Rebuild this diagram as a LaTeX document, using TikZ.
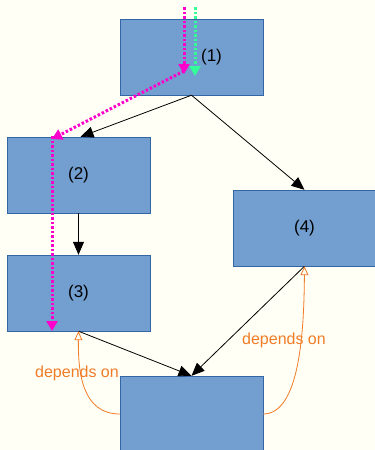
\documentclass[tikz,border=0pt]{standalone}
\usepackage{fontspec}
\setmainfont{Liberation Sans}
\usetikzlibrary{arrows.meta}

\definecolor{paper}{HTML}{FFFFF5}
\definecolor{boxblue}{HTML}{729FCF}
\definecolor{boxline}{HTML}{3465A4}
\definecolor{deporange}{HTML}{F07C28}
\definecolor{pathpink}{HTML}{FF00CC}
\definecolor{pathgreen}{HTML}{33FF99}

\tikzset{
  block/.style={draw=boxline, fill=boxblue, minimum width=143pt, minimum height=76pt, inner sep=0pt, font=\fontsize{17}{20}\selectfont},
  link/.style={draw=black, line width=0.8pt, -{Triangle[length=13pt,width=11pt]}},
  depends/.style={draw=deporange, line width=0.8pt, -{Triangle[open,length=9pt,width=8pt]}},
  deplabel/.style={text=deporange, font=\fontsize{16}{19}\selectfont},
  trace/.style={line width=3pt, dash pattern=on 2.5pt off 2pt, -{Triangle[length=10pt,width=11pt]}}
}

\begin{document}
\begin{tikzpicture}[x=1pt, y=-1pt]
\fill[paper] (0,0) rectangle (375,450);
\useasboundingbox (0,0) rectangle (375,450);

\node[block, label={[font=\fontsize{17}{20}\selectfont]center:{\hspace*{40pt}(1)}}] (b1) at (191.5,57) {};
\node[block] (b2) at (78.5,175) {(2)};
\node[block] (b3) at (78.5,293) {(3)};
\node[block] (b4) at (304.5,228) {(4)};
\node[block] (b5) at (191.5,414) {};

\draw[link] (b1.south) -- ([xshift=2pt]b2.north);
\draw[link] (b1.south) -- (b4.north);
\draw[link] (b2.south) -- (b3.north);
\draw[link] (b3.south) -- (b5.north);
\draw[link] (b4.south) -- (b5.north);

\draw[depends] (b5.west) .. controls (82,414) and (78,372) .. (b3.south);
\draw[depends] (b5.east) .. controls (300,414) and (304,330) .. (b4.south);
\node[deplabel] (dep1) at (77,373) {depends on};
\node[deplabel] (dep2) at (284,340) {depends on};

\coordinate (p0) at (184,7);
\coordinate (p1) at (184,74);
\coordinate (p2) at (52,139);
\coordinate (p3) at (52,331);
\coordinate (g0) at (195,7);
\coordinate (g1) at (195,76);
\draw[trace, pathgreen] (g0) -- (g1);
\draw[trace, pathpink] (p0) -- (p1);
\draw[trace, pathpink] ([yshift=3pt]p1) -- (p2);
\draw[trace, pathpink] ([yshift=3pt]p2) -- (p3);
\end{tikzpicture}
\end{document}
